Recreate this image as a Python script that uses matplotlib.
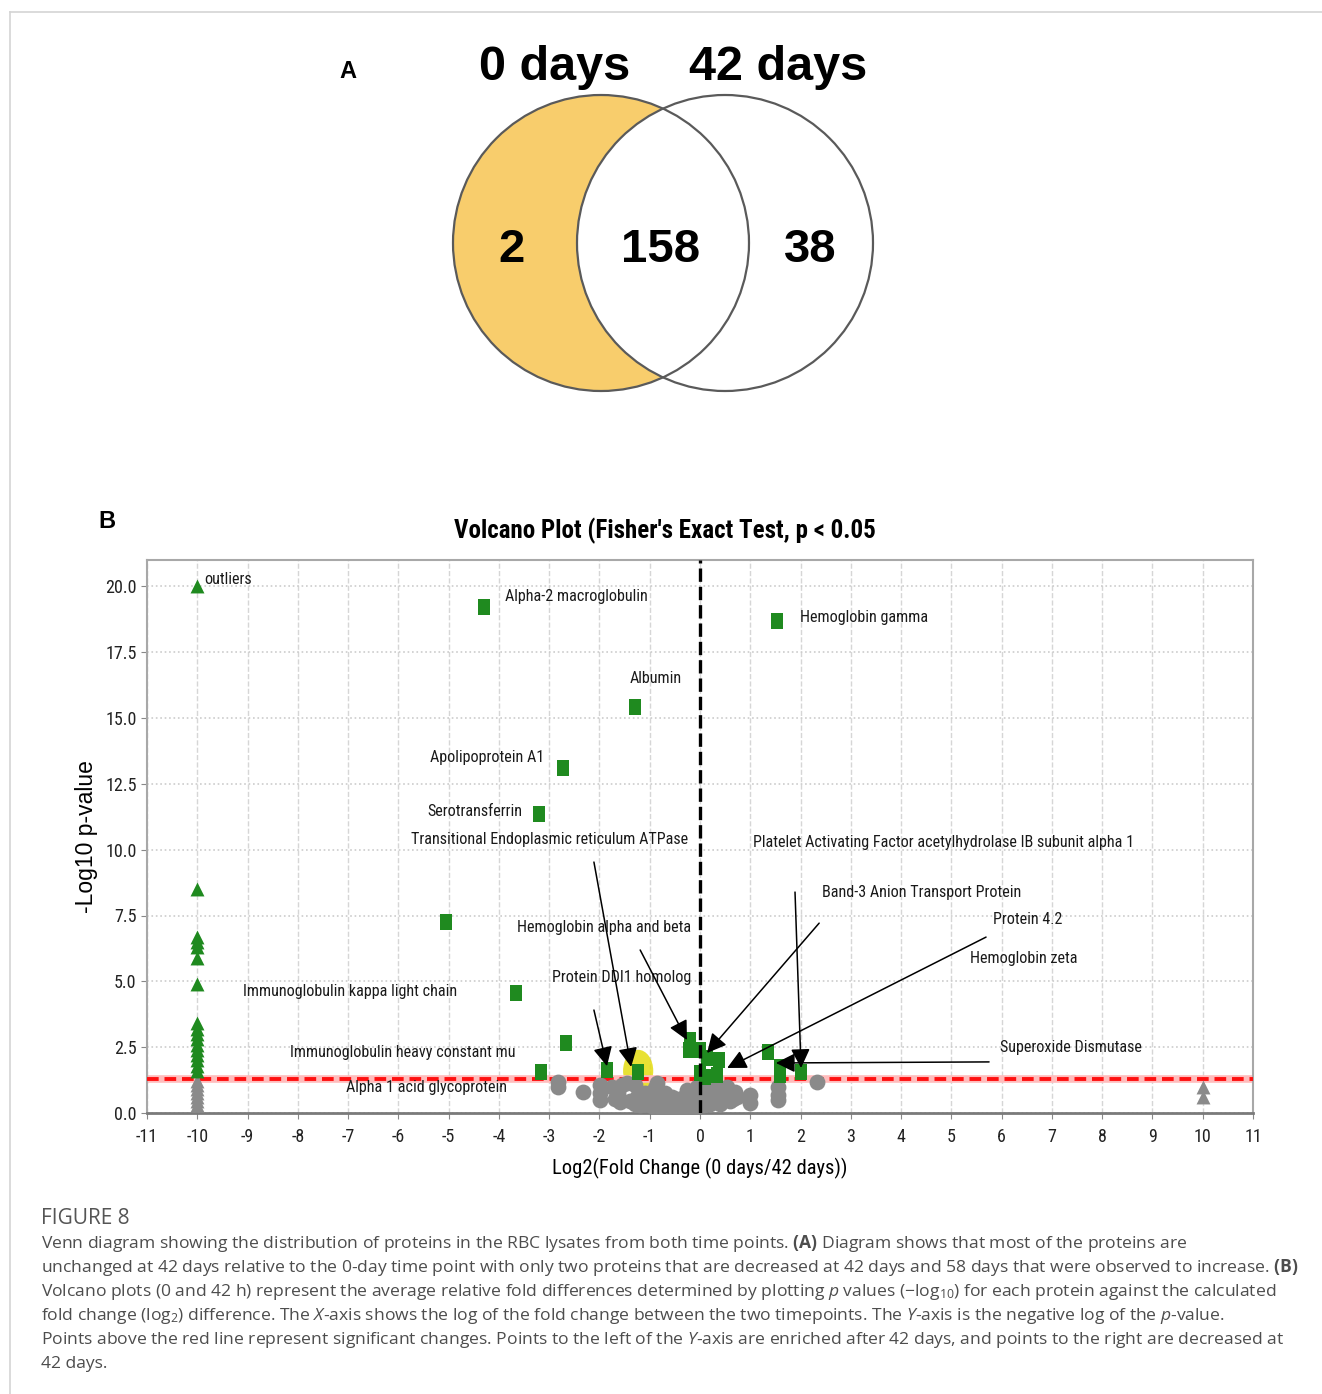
import matplotlib
matplotlib.use('Agg')
import matplotlib.pyplot as plt
from matplotlib import font_manager
from matplotlib.patches import Circle, Ellipse
from matplotlib.path import Path
import numpy as np

"""
data
"""
# Venn (A)
venn_sets = ['0 days', '42 days']
venn_counts = [2, 158, 38]  # only 0 d, shared, only 42 d

# volcano (B): significant proteins (green squares)
sig_x = [-4.29, 1.53, -1.29, -2.72, -3.20, -5.05, -3.66, -2.66, -3.16, -1.85, -1.23,
         -0.20, -0.22, 0.00, 0.14, 0.38, 0.00, 0.10, 0.34, 1.35, 1.60, 1.60, 2.00]
sig_y = [19.2, 18.7, 15.4, 13.1, 11.35, 7.25, 4.55, 2.65, 1.55, 1.63, 1.55,
         2.77, 2.39, 2.39, 2.09, 2.00, 1.52, 1.35, 1.44, 2.30, 1.75, 1.45, 1.55]

# non significant proteins (grey circles)
ns_x = [-2.82, -2.82, -2.33, -1.99, -1.99, -1.99, -1.75, -1.63, -1.59, -1.45,
        -1.29, -1.25, -1.13, -1.00, -0.85, -0.83, -0.74, -0.60, -0.40, -0.26,
        -0.24, -1.20, -1.05, -0.95, -0.80, -0.65, -0.50, -0.35, -0.20, -0.10,
        -0.24, -0.06, 0.14, 0.34, 0.54, 0.70, 0.74, 0.46, 0.24, 0.00,
        -0.26, -0.34, -0.14, 0.06, 0.20, 0.40, 0.60, 0.99, 0.99, 1.55,
        1.55, 1.55, 2.33, -0.90, -1.40, -0.55, 0.30, 0.10, -1.55, -1.30,
        -1.10, -0.70, -0.45, -0.15, 0.50, 0.65, -1.70, -0.95, -0.30, 0.20]
ns_y = [1.18, 1.00, 0.80, 1.06, 0.76, 0.50, 1.00, 0.76, 0.42, 1.14,
        1.06, 0.60, 0.50, 0.76, 1.14, 0.76, 0.50, 0.38, 0.38, 0.87,
        0.42, 0.30, 0.35, 0.25, 0.22, 0.20, 0.18, 0.20, 0.25, 0.20,
        0.76, 1.00, 1.00, 0.95, 0.99, 0.80, 0.60, 0.60, 0.60, 0.60,
        0.42, 0.23, 0.23, 0.30, 0.35, 0.35, 0.45, 0.68, 0.38, 1.00,
        0.68, 0.50, 1.18, 0.95, 0.45, 0.60, 0.80, 0.80, 1.05, 0.35,
        0.75, 0.75, 0.55, 0.50, 0.75, 0.55, 0.55, 0.55, 0.65, 0.85]

# outliers (triangles) at +-10
out_sig_x = -10
out_sig_y = [20.0, 8.5, 6.7, 6.5, 6.3, 5.9, 4.9, 3.4, 3.2, 3.0, 2.8, 2.6, 2.4, 2.2, 2.0, 1.8, 1.6]
out_ns_left_y = [1.2, 1.05, 0.9, 0.75, 0.6, 0.45, 0.3]
out_ns_right_y = [1.0, 0.6]

p_cut = 1.3  # -log10(0.05)
highlight = (-1.23, 1.6)

labels = [
    ('outliers', -9.86, 20.27),
    ('Alpha-2 macroglobulin', -3.88, 19.6),
    ('Hemoglobin gamma', 1.99, 18.8),
    ('Albumin', -1.39, 16.5),
    ('Apolipoprotein A1', -5.37, 13.5),
    ('Serotransferrin', -5.43, 11.46),
    ('Transitional Endoplasmic reticulum ATPase', -5.75, 10.4),
    ('Platelet Activating Factor acetylhydrolase IB subunit alpha 1', 1.05, 10.28),
    ('Band-3 Anion Transport Protein', 2.43, 8.39),
    ('Protein 4.2', 5.83, 7.36),
    ('Hemoglobin alpha and beta', -3.64, 7.06),
    ('Hemoglobin zeta', 5.37, 5.88),
    ('Protein DDI1 homolog', -2.94, 5.16),
    ('Immunoglobulin kappa light chain', -9.1, 4.6),
    ('Immunoglobulin heavy constant mu', -8.15, 2.31),
    ('Superoxide Dismutase', 5.96, 2.5),
    ('Alpha 1 acid glycoprotein', -7.04, 0.95),
]

# (tail, head)
arrows = [
    ((-2.11, 9.53), (-1.37, 1.75)),
    ((-2.11, 3.91), (-1.85, 1.78)),
    ((-1.19, 6.19), (-0.26, 2.77)),
    ((2.37, 7.21), (0.14, 2.28)),
    ((5.69, 6.68), (0.54, 1.71)),
    ((1.89, 8.39), (2.01, 1.71)),
    ((5.75, 1.94), (1.51, 1.90)),
]

caption_title = 'FIGURE 8'
caption_lines = [
    r'Venn diagram showing the distribution of proteins in the RBC lysates from both time points. $\mathbf{(A)}$ Diagram shows that most of the proteins are',
    r'unchanged at 42 days relative to the 0-day time point with only two proteins that are decreased at 42 days and 58 days that were observed to increase. $\mathbf{(B)}$',
    r'Volcano plots (0 and 42 h) represent the average relative fold differences determined by plotting $p$ values (−$\mathrm{log}_{10}$) for each protein against the calculated',
    r'fold change ($\mathrm{log}_{2}$) difference. The $X$-axis shows the log of the fold change between the two timepoints. The $Y$-axis is the negative log of the $p$-value.',
    r'Points above the red line represent significant changes. Points to the left of the $Y$-axis are enriched after 42 days, and points to the right are decreased at',
    '42 days.',
]

"""
fonts
"""
avail = {f.name for f in font_manager.fontManager.ttflist}
NARROW = next((f for f in ['Liberation Sans Narrow', 'Roboto Condensed', 'Open Sans Condensed']
               if f in avail), 'Liberation Sans')
CAP = 'Open Sans' if 'Open Sans' in avail else 'DejaVu Sans'

plt.rcParams['font.family'] = ['Liberation Sans', 'DejaVu Sans']
plt.rcParams['axes.unicode_minus'] = False
plt.rcParams['mathtext.fontset'] = 'custom'
plt.rcParams['mathtext.rm'] = CAP
plt.rcParams['mathtext.it'] = CAP + ':italic'
plt.rcParams['mathtext.bf'] = CAP + ':bold'

W, H = 1322, 1394
fig = plt.figure(figsize=(W / 100, H / 100), dpi=100)

# pixel overlay for panel A, frame and caption
ov = fig.add_axes([0, 0, 1, 1])
ov.set_xlim(0, W)
ov.set_ylim(H, 0)
ov.axis('off')

ov.plot([10, W], [12, 12], color='#d4d4d4', lw=1.2)
ov.plot([10, 10], [12, H], color='#d4d4d4', lw=1.2)

# Venn
r = 148
cl, cr, cy = 601, 725, 243
ov.add_patch(Circle((cl, cy), r, facecolor='#f8cd6c', edgecolor='none', zorder=1))
ov.add_patch(Circle((cr, cy), r, facecolor='white', edgecolor='none', zorder=2))
ov.add_patch(Circle((cl, cy), r, facecolor='none', edgecolor='#5a5a5a', lw=1.6, zorder=3))
ov.add_patch(Circle((cr, cy), r, facecolor='none', edgecolor='#5a5a5a', lw=1.6, zorder=3))
ov.text(555, 67, venn_sets[0], fontsize=35, fontweight='bold', ha='center', va='center')
ov.text(778, 67, venn_sets[1], fontsize=35, fontweight='bold', ha='center', va='center')
for xp, n in zip([511, 661, 810], venn_counts):
    ov.text(xp, 250, str(n), fontsize=34, fontweight='bold', ha='center', va='center', zorder=4)
ov.text(348, 72, 'A', fontsize=17, fontweight='bold', ha='center', va='center')
ov.text(107, 522, 'B', fontsize=17, fontweight='bold', ha='center', va='center')

# caption
ov.text(41, 1219, caption_title, fontsize=15, color='#555555', family=CAP, va='center')
for i, line in enumerate(caption_lines):
    ov.text(41, 1244 + 24 * i, line, fontsize=12.6, color='#4d4d4d', family=CAP, va='center')

"""
volcano plot
"""
ax = fig.add_axes([147 / W, 1 - 1113 / H, (1253 - 147) / W, (1113 - 560) / H])
ax.set_xlim(-11, 11)
ax.set_ylim(0, 21)

green = '#1f8a1f'
grey = '#8a8a8a'
rect = Path([(-0.4, -0.55), (0.4, -0.55), (0.4, 0.55), (-0.4, 0.55), (-0.4, -0.55)])

ax.add_patch(Ellipse(highlight, 0.6, 1.6, facecolor='#e4dc10', alpha=0.85, zorder=2))
ax.scatter(ns_x, ns_y, s=130, marker='o', color=grey, zorder=3, linewidths=0)
ax.scatter([-10] * len(out_ns_left_y), out_ns_left_y, s=100, marker='^', color=grey, zorder=3, linewidths=0)
ax.scatter([10] * len(out_ns_right_y), out_ns_right_y, s=100, marker='^', color=grey, zorder=3, linewidths=0)
ax.scatter([out_sig_x] * len(out_sig_y), out_sig_y, s=100, marker='^', color=green, zorder=4, linewidths=0)
ax.scatter(sig_x, sig_y, s=135, marker=rect, color=green, zorder=4, linewidths=0)

ax.axhline(p_cut, color='#ffbcbc', lw=5.5, zorder=2.5)
ax.axhline(p_cut, color='#ff1010', lw=2.8, dashes=(3, 1.5), zorder=2.6)
ax.axvline(0, color='black', lw=2.4, dashes=(4, 1.5), zorder=5)

for txt, tx, ty in labels:
    ax.text(tx, ty, txt, fontsize=11.6, family=NARROW, ha='left', va='center', color='#1a1a1a', zorder=6)

for tail, head in arrows:
    ax.annotate('', xy=head, xytext=tail,
                arrowprops=dict(arrowstyle='-|>,head_length=0.9,head_width=0.45',
                                color='black', lw=1.1, mutation_scale=13, shrinkA=0, shrinkB=0),
                zorder=6)

ax.set_xticks(np.arange(-11, 12))
ax.set_yticks(np.arange(0, 20.1, 2.5))
ax.set_yticklabels(['%.1f' % v for v in np.arange(0, 20.1, 2.5)])
ax.tick_params(labelsize=13, length=4, color='#888888', labelcolor='#222222')
ax.tick_params(axis='x', pad=6.5)
for t in ax.get_xticklabels() + ax.get_yticklabels():
    t.set_family(NARROW)
ax.grid(axis='x', color='#d6d6d6', ls='--', lw=1)
ax.grid(axis='y', color='#cccccc', ls=':', lw=1.2)
ax.set_axisbelow(True)
for s in ['top', 'right', 'left']:
    ax.spines[s].set_color('#a8a8a8')
    ax.spines[s].set_linewidth(1.5)
ax.spines['bottom'].set_color('#7a7a7a')
ax.spines['bottom'].set_linewidth(2)

ax.text((665 - 147) / 1106, 1 + 29 / 553, "Volcano Plot (Fisher's Exact Test, p < 0.05",
        transform=ax.transAxes, fontsize=18, fontweight='bold', family=NARROW,
        ha='center', va='center')
ax.set_xlabel('Log2(Fold Change (0 days/42 days))', fontsize=14.8, family=NARROW, labelpad=9)
ax.set_ylabel('-Log10 p-value', fontsize=16.5, labelpad=5)

fig.savefig('out.png', dpi=100)
